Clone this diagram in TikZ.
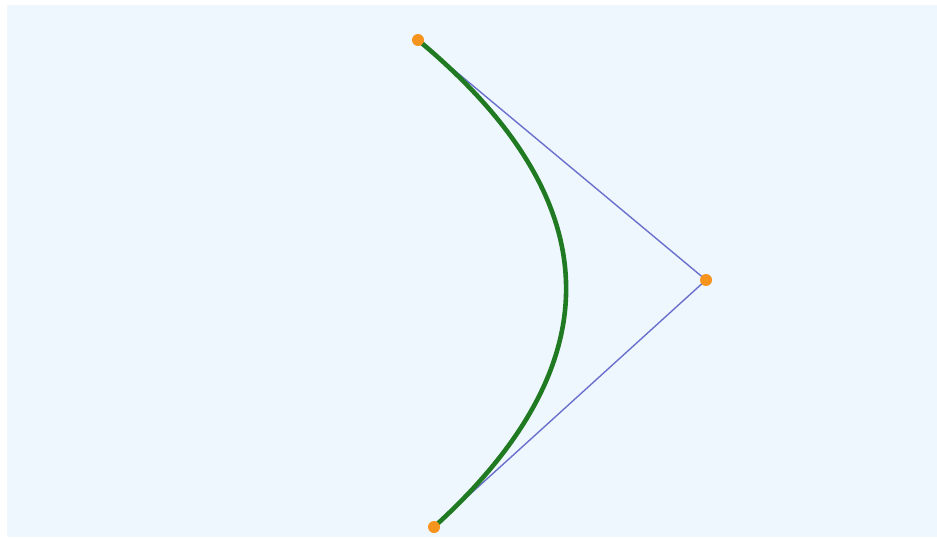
\documentclass[tikz,border=0pt]{standalone}
\usetikzlibrary{calc}
\definecolor{bgblue}{HTML}{EFF7FE}
\definecolor{ctrlblue}{HTML}{6A70CC}
\definecolor{curvegreen}{HTML}{1F7A22}
\definecolor{dotorange}{HTML}{F7941D}
\tikzset{
  hull/.style={draw=ctrlblue, line width=1.4pt},
  bez/.style={draw=curvegreen, line width=4.6pt, line cap=round},
  handle/.style={circle, fill=dotorange, inner sep=0pt, minimum size=12pt}
}
\begin{document}
\begin{tikzpicture}[x=1pt,y=-1pt]
\useasboundingbox (0,0) rectangle (937,540);
\fill[white] (0,0) rectangle (937,540);
\fill[bgblue] (7,5) rectangle (937,537);
\coordinate (p0) at (418,40);
\coordinate (c) at (706,280);
\coordinate (p2) at (434,527);
\draw[hull] (p0) -- (c) -- (p2);
\draw[bez] (p0) .. controls ($(p0)!2/3!(c)$) and ($(p2)!2/3!(c)$) .. (p2);
\node[handle] (h0) at (p0) {};
\node[handle] (h1) at (c) {};
\node[handle] (h2) at (p2) {};
\end{tikzpicture}
\end{document}
